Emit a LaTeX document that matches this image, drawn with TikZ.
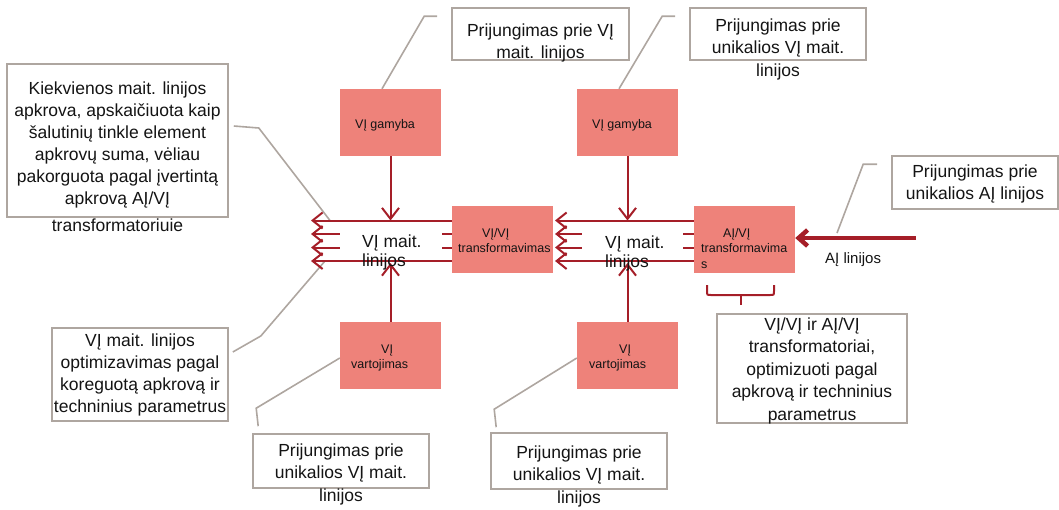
\documentclass[tikz,border=0pt]{standalone}
\usepackage{fontspec}
\setmainfont{Liberation Sans}
\usetikzlibrary{arrows.meta}
\definecolor{boxred}{RGB}{238,130,122}
\definecolor{linered}{RGB}{165,30,40}
\definecolor{calloutgrey}{RGB}{174,166,160}
\definecolor{ink}{RGB}{20,20,20}
% invisible rule that fixes the height of a block's first line
\newcommand\firstline[1]{\rule{0pt}{#1}}

\begin{document}
\begin{tikzpicture}[x=1pt,y=-1pt,
  unit/.style={fill=boxred, inner sep=0, minimum width=101, minimum height=67},
  callout/.style={draw=calloutgrey, line width=1.6, fill=white, inner sep=0},
  leader/.style={draw=calloutgrey, line width=1.6},
  note/.style={inner sep=0, align=center, text=ink, anchor=north,
    font=\fontsize{17.5}{22.5}\selectfont},
  unitlabel/.style={inner sep=0, align=left, text=ink, anchor=north west,
    font=\fontsize{12.5}{15.5}\selectfont},
  buslabel/.style={inner sep=0, align=left, text=ink, anchor=north west,
    font=\fontsize{17.5}{19}\selectfont},
  bus/.style={draw=linered, line width=2},
  inlet/.style={bus, {Straight Barb[length=10pt,width=16pt]}-},
  feed/.style={bus, -{Straight Barb[length=11pt,width=17pt]}},
  mains/.style={draw=linered, line width=4.5, -{Straight Barb[length=9pt,width=16pt]}},
]
\useasboundingbox (0,0) rectangle (1059,509);

% ---- callout boxes ----
\node[callout, minimum width=177, minimum height=52] (cb1) at (540.5,34) {};
\node[callout, minimum width=176, minimum height=52] (cb2) at (778,34) {};
\node[callout, minimum width=166, minimum height=53] (cb3) at (975,182.5) {};
\node[callout, minimum width=221, minimum height=153] (cb4) at (117.5,140.5) {};
\node[callout, minimum width=176, minimum height=93] (cb5) at (140,374.5) {};
\node[callout, minimum width=176, minimum height=54] (cb6) at (341,461) {};
\node[callout, minimum width=176, minimum height=56] (cb7) at (579,461) {};
\node[callout, minimum width=190, minimum height=109] (cb8) at (812,368.5) {};

% ---- units ----
\node[unit] (g1) at (390.5,122.5) {};
\node[unit] (g2) at (627.5,122.5) {};
\node[unit] (t1) at (502.5,239.5) {};
\node[unit] (t2) at (744.5,239.5) {};
\node[unit] (v1) at (390.5,355.5) {};
\node[unit] (v2) at (627.5,355.5) {};

% ---- bus end points ----
\coordinate (Ltop) at (311,220.5);
\coordinate (Lmid1) at (311,234);
\coordinate (Lmid2) at (311,247.5);
\coordinate (Lbot) at (311,261);
\coordinate (Rtop) at (555,220.5);
\coordinate (Rmid1) at (555,234);
\coordinate (Rmid2) at (555,247.5);
\coordinate (Rbot) at (555,261);
\coordinate (ain) at (916,238);
\coordinate (apin) at (837,233);

% ---- leaders ----
\draw[leader] ([xshift=-14pt,yshift=-9pt]cb1.north west) -- ++(-13,0) -- ([xshift=-8.5pt]g1.north);
\draw[leader] ([xshift=-14pt,yshift=-9pt]cb2.north west) -- ++(-13,0) -- ([xshift=-8.5pt]g2.north);
\draw[leader] ([xshift=-14pt,yshift=-9pt]cb3.north west) -- ++(-14,0) -- (apin);
\draw[leader] ([xshift=5pt,yshift=14.5pt]cb4.east) -- ++(25,2) -- ([xshift=19pt]Ltop);
\draw[leader] ([xshift=4pt,yshift=22.5pt]cb5.east) -- ++(28,-16) -- ([xshift=14pt]Lbot);
\draw[leader] ([xshift=6pt,yshift=7pt]cb6.north west) -- ++(-2,-18) -- ([yshift=-2.5pt]v1.west);
\draw[leader] ([xshift=6pt,yshift=5pt]cb7.north west) -- ++(-2,-18) -- ([yshift=-2.5pt]v2.west);

% ---- left feeder bus ----
\draw[inlet] (Ltop) -- (Ltop -| t1.west);
\draw[inlet] (Lmid1) -- ++(29,0);
\draw[inlet] (Lmid2) -- ++(29,0);
\draw[inlet] (Lbot) -- (Lbot -| t1.west);
\draw[bus] (Lmid1 -| t1.west) -- ++(-10,0);
\draw[bus] (Lmid2 -| t1.west) -- ++(-10,0);

% ---- right feeder bus ----
\draw[inlet] (Rtop) -- (Rtop -| t2.west);
\draw[inlet] (Rmid1) -- ++(27,0);
\draw[inlet] (Rmid2) -- ++(27,0);
\draw[inlet] (Rbot) -- (Rbot -| t2.west);
\draw[bus] (Rmid1 -| t2.west) -- ++(-11,0);
\draw[bus] (Rmid2 -| t2.west) -- ++(-11,0);

% ---- generation and consumption ----
\draw[feed] (g1.south) -- (g1.south |- Ltop);
\draw[feed] (g2.south) -- (g2.south |- Rtop);
\draw[feed] (v1.north) -- ([yshift=-2pt]v1.north |- Lbot);
\draw[feed] (v2.north) -- ([yshift=-2pt]v2.north |- Rbot);

% ---- HV supply ----
\draw[mains] (ain) -- (t2.east |- ain);
\node[inner sep=0, anchor=base west, text=ink, font=\fontsize{15}{18}\selectfont] (ainlabel) at (825,263) {AĮ linijos};

% ---- brace under the HV/MV unit ----
\draw[bus] (707,285) -- (707,291) .. controls (707,295) .. (711,295) -- (770,295)
  .. controls (774,295) .. (774,291) -- (774,285);
\draw[bus] (740.5,295) -- (740.5,305);

% ---- unit labels ----
\node[unitlabel] (g1label) at (355,118) {\firstline{10pt}VĮ gamyba};
\node[unitlabel] (g2label) at (592,118) {\firstline{10pt}VĮ gamyba};
\node[unitlabel] (t1label) at (458,227) {\firstline{10pt}\hspace*{24pt}VĮ/VĮ\\transformavimas};
\node[unitlabel] (t2label) at (701,227) {\firstline{10pt}\hspace*{22pt}AĮ/VĮ\\transformavima\\s};
\node[unitlabel] (v1label) at (351,343) {\firstline{10pt}\hspace*{30pt}VĮ\\vartojimas};
\node[unitlabel] (v2label) at (589,343) {\firstline{10pt}\hspace*{30pt}VĮ\\vartojimas};

% ---- bus labels ----
\node[buslabel] (lbus) at (362,232) {\firstline{15pt}VĮ mait.\\linijos};
\node[buslabel] (rbus) at (605,233) {\firstline{15pt}VĮ mait.\\linijos};

% ---- callout texts ----
\node[note] (n1) at (540.5,21) {\firstline{15pt}Prijungimas prie VĮ\\mait. linijos};
\node[note] (n2) at (778,16) {\firstline{15pt}Prijungimas prie\\unikalios VĮ mait.\\linijos};
\node[note] (n3) at (975,162) {\firstline{15pt}Prijungimas prie\\unikalios AĮ linijos};
\node[note, font=\fontsize{17.5}{22}\selectfont] (n4) at (117.5,79)
  {\firstline{15pt}Kiekvienos mait. linijos\\apkrova, apskaičiuota kaip\\šalutinių tinkle element\\apkrovų suma, vėliau\\pakorguota pagal įvertintą\\apkrovą AĮ/VĮ\\[5pt]transformatoriuie};
\node[note, font=\fontsize{17.5}{22}\selectfont] (n5) at (140,331)
  {\firstline{15pt}VĮ mait. linijos\\optimizavimas pagal\\koreguotą apkrovą ir\\techninius parametrus};
\node[note] (n6) at (341,441) {\firstline{15pt}Prijungimas prie\\unikalios VĮ mait.\\linijos};
\node[note] (n7) at (579,443) {\firstline{15pt}Prijungimas prie\\unikalios VĮ mait.\\linijos};
\node[note] (n8) at (812,315) {\firstline{15pt}VĮ/VĮ ir AĮ/VĮ\\transformatoriai,\\optimizuoti pagal\\apkrovą ir techninius\\parametrus};
\end{tikzpicture}
\end{document}
